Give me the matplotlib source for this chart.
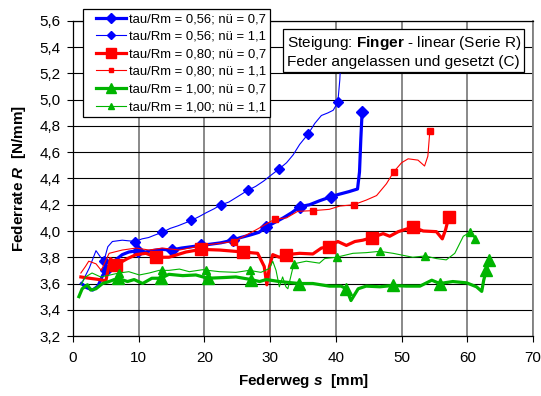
import matplotlib
matplotlib.use("Agg")
from matplotlib import pyplot as plt
from matplotlib.lines import Line2D
from matplotlib.legend_handler import HandlerLine2D
from matplotlib.ticker import MultipleLocator, FuncFormatter

plt.rcParams['font.family'] = ['Liberation Sans', 'DejaVu Sans']
plt.rcParams['mathtext.fontset'] = 'custom'
plt.rcParams['mathtext.rm'] = 'Liberation Sans'
plt.rcParams['mathtext.bf'] = 'Liberation Sans:bold'
plt.rcParams['mathtext.it'] = 'Liberation Sans:italic:bold'

# tau/Rm = 0,56; nue = 0,7
b07_x = [1.3, 2.0, 3.0, 3.8, 4.5, 5.0, 5.6, 6.5, 7.5, 8.5, 9.9, 11.0, 12.0, 13.5, 15.0, 16.5,
         18.0, 19.5, 21.0, 22.5, 24.3, 25.5, 27.0, 28.3, 29.4, 30.5, 32.0, 33.3, 34.5, 36.0,
         37.5, 39.2, 40.5, 42.0, 43.3, 43.6, 43.8, 44.0]
b07_y = [3.60, 3.57, 3.55, 3.58, 3.66, 3.70, 3.73, 3.78, 3.82, 3.84, 3.85, 3.84, 3.85, 3.86,
         3.855, 3.87, 3.88, 3.89, 3.90, 3.91, 3.93, 3.95, 3.97, 3.99, 4.03, 4.06, 4.10, 4.14,
         4.185, 4.20, 4.23, 4.26, 4.28, 4.30, 4.32, 4.45, 4.70, 4.91]
b07_mx = [5.0, 9.9, 15.0, 19.5, 24.3, 29.4, 34.5, 39.2, 44.0]
b07_my = [3.70, 3.85, 3.855, 3.89, 3.93, 4.03, 4.185, 4.26, 4.91]

# tau/Rm = 0,56; nue = 1,1
b11_x = [1.5, 2.5, 3.5, 4.2, 4.7, 5.3, 6.0, 7.5, 9.5, 10.5, 11.5, 12.5, 13.6, 14.8, 16.0, 17.0,
         18.0, 19.2, 20.3, 21.5, 22.5, 23.7, 25.0, 26.6, 27.8, 29.0, 30.0, 31.3, 32.5, 33.5,
         34.5, 35.8, 36.8, 37.8, 38.8, 39.6, 40.3, 40.6, 40.9]
b11_y = [3.62, 3.72, 3.85, 3.80, 3.77, 3.88, 3.92, 3.93, 3.92, 3.94, 3.95, 3.97, 3.99, 4.02,
         4.04, 4.06, 4.08, 4.11, 4.14, 4.17, 4.20, 4.22, 4.26, 4.31, 4.34, 4.38, 4.42, 4.47,
         4.52, 4.58, 4.66, 4.74, 4.82, 4.88, 4.90, 4.92, 4.98, 5.15, 5.45]
b11_mx = [4.7, 9.5, 13.6, 18.0, 22.5, 26.6, 31.3, 35.8, 40.3]
b11_my = [3.77, 3.92, 3.99, 4.08, 4.20, 4.31, 4.47, 4.74, 4.98]

# tau/Rm = 0,80; nue = 0,7
r07_x = [1.2, 2.5, 4.0, 5.0, 5.7, 6.5, 8.3, 9.6, 11.1, 12.6, 14.6, 17.2, 19.5, 22.3, 25.9,
         28.1, 29.1, 29.5, 29.9, 30.4, 31.4, 32.4, 34.5, 36.5, 37.8, 38.9, 40.3, 41.6, 42.9,
         44.1, 45.5, 47.2, 48.2, 49.5, 51.7, 53.3, 55.3, 56.2, 56.7, 57.2]
r07_y = [3.65, 3.64, 3.63, 3.62, 3.79, 3.74, 3.79, 3.82, 3.83, 3.80, 3.80, 3.84, 3.86, 3.855,
         3.84, 3.83, 3.73, 3.59, 3.73, 3.82, 3.80, 3.82, 3.83, 3.825, 3.87, 3.88, 3.92, 3.89,
         3.92, 3.93, 3.95, 3.98, 3.96, 3.995, 4.03, 4.00, 3.995, 3.94, 4.01, 4.11]
r07_mx = [6.5, 12.6, 19.5, 25.9, 32.4, 38.9, 45.5, 51.7, 57.2]
r07_my = [3.74, 3.80, 3.86, 3.84, 3.82, 3.88, 3.95, 4.03, 4.11]

# tau/Rm = 0,80; nue = 1,1
r11_x = [1.2, 1.9, 2.4, 3.5, 4.3, 5.5, 7.5, 9.6, 11.6, 13.6, 16.2, 19.7, 24.5, 27.9, 30.7,
         32.5, 34.2, 36.5, 39.0, 40.6, 42.7, 44.6, 46.2, 47.7, 48.8, 50.0, 51.0, 52.5, 53.5,
         54.0, 54.3]
r11_y = [3.68, 3.73, 3.77, 3.75, 3.70, 3.83, 3.855, 3.87, 3.855, 3.87, 3.855, 3.89, 3.92,
         4.01, 4.09, 4.10, 4.15, 4.155, 4.165, 4.19, 4.20, 4.235, 4.27, 4.36, 4.45, 4.52,
         4.55, 4.54, 4.495, 4.57, 4.76]
r11_mx = [24.5, 30.7, 36.5, 42.7, 48.8, 54.3]
r11_my = [3.92, 4.09, 4.155, 4.20, 4.45, 4.76]

# tau/Rm = 1,00; nue = 0,7
g07_x = [0.9, 1.4, 2.2, 2.7, 3.5, 4.5, 5.5, 6.8, 8.3, 9.3, 10.6, 12.0, 13.4, 14.6, 16.7,
         18.7, 20.5, 22.8, 24.8, 27.1, 28.4, 29.4, 31.4, 34.4, 36.5, 39.0, 40.8, 41.6,
         42.3, 43.4, 44.6, 46.7, 48.7, 50.7, 52.8, 54.6, 55.8, 57.8, 59.9, 61.4, 62.2, 62.5,
         62.9, 63.3]
g07_y = [3.50, 3.56, 3.59, 3.55, 3.56, 3.60, 3.615, 3.64, 3.615, 3.63, 3.60, 3.64, 3.64,
         3.67, 3.66, 3.665, 3.64, 3.645, 3.65, 3.63, 3.615, 3.63, 3.615, 3.60, 3.60, 3.58,
         3.58, 3.56, 3.47, 3.56, 3.58, 3.575, 3.585, 3.58, 3.58, 3.625, 3.60, 3.615, 3.605,
         3.575, 3.54, 3.625, 3.70, 3.78]
g07_mx = [6.8, 13.4, 20.5, 27.1, 34.4, 41.6, 48.7, 55.8, 62.9, 63.3]
g07_my = [3.64, 3.64, 3.64, 3.63, 3.60, 3.56, 3.585, 3.60, 3.70, 3.78]

# tau/Rm = 1,00; nue = 1,1
g11_x = [1.2, 1.9, 2.9, 4.2, 5.2, 7.0, 8.5, 10.1, 11.6, 13.1, 14.6, 16.2, 17.7, 19.7, 22.3,
         24.8, 26.8, 28.6, 29.9, 30.4, 30.9, 31.4, 31.9, 32.4, 32.7, 33.6, 35.5, 37.5, 38.3,
         40.1, 42.6, 44.6, 46.7, 48.7, 51.7, 53.6, 55.3, 56.8, 58.1, 59.4, 60.4, 61.2]
g11_y = [3.59, 3.65, 3.68, 3.65, 3.66, 3.68, 3.69, 3.665, 3.68, 3.70, 3.70, 3.71, 3.69,
         3.705, 3.69, 3.685, 3.70, 3.685, 3.715, 3.77, 3.70, 3.575, 3.65, 3.575, 3.56, 3.75,
         3.77, 3.755, 3.79, 3.80, 3.83, 3.835, 3.845, 3.83, 3.80, 3.81, 3.79, 3.78, 3.83,
         3.96, 3.99, 3.94]
g11_mx = [7.0, 13.5, 20.3, 27.0, 33.6, 40.1, 46.7, 53.6, 60.4, 61.2]
g11_my = [3.68, 3.70, 3.70, 3.70, 3.75, 3.80, 3.845, 3.81, 3.99, 3.94]

labels = ["tau/Rm = 0,56; nü = 0,7", "tau/Rm = 0,56; nü = 1,1",
          "tau/Rm = 0,80; nü = 0,7", "tau/Rm = 0,80; nü = 1,1",
          "tau/Rm = 1,00; nü = 0,7", "tau/Rm = 1,00; nü = 1,1"]

blue = "#0000ff"
red = "#ff0000"
green = "#00b400"

series = [
    (b07_x, b07_y, b07_mx, b07_my, blue, 2.3, "D", 6.5),
    (b11_x, b11_y, b11_mx, b11_my, blue, 0.8, "D", 5.0),
    (r07_x, r07_y, r07_mx, r07_my, red, 2.3, "s", 8.5),
    (r11_x, r11_y, r11_mx, r11_my, red, 0.8, "s", 4.0),
    (g07_x, g07_y, g07_mx, g07_my, green, 2.3, "^", 8.5),
    (g11_x, g11_y, g11_mx, g11_my, green, 0.8, "^", 5.5),
]


class ShiftedLine(HandlerLine2D):
    # leave some blank space left of the legend line, like Excel does
    def create_artists(self, legend, orig_handle, xdescent, ydescent, width, height,
                       fontsize, trans):
        shift = 0.7 * fontsize
        return super().create_artists(legend, orig_handle, xdescent - shift, ydescent,
                                      width - shift, height, fontsize, trans)


fig = plt.figure(figsize=(5.41, 3.96), dpi=100)
ax = fig.add_axes([0.1349, 0.1515, 0.8503, 0.7955])

handles = []
for x, y, mx, my, c, lw, m, ms in series:
    ax.plot(x, y, color=c, lw=lw, solid_joinstyle="round")
    ax.plot(mx, my, ls="none", marker=m, ms=ms, color=c, mec=c)
    handles.append(Line2D([], [], color=c, lw=lw, marker=m, ms=ms * 0.8, mec=c))

ax.set_xlim(0, 70)
ax.set_ylim(3.2, 5.6)
ax.xaxis.set_major_locator(MultipleLocator(10))
ax.yaxis.set_major_locator(MultipleLocator(0.2))
ax.yaxis.set_major_formatter(FuncFormatter(lambda v, p: f"{v:.1f}".replace(".", ",")))
ax.tick_params(direction="out", length=4, width=0.8, labelsize=11)
ax.tick_params(axis="x", pad=7)
ax.tick_params(axis="y", pad=5)

ax.grid(axis="y", color="black", lw=0.8)
ax.grid(axis="x", color="#808080", lw=1.3)
ax.set_axisbelow(True)
for s in ["left", "bottom", "top"]:
    ax.spines[s].set_color("black")
    ax.spines[s].set_linewidth(0.9)
ax.spines["right"].set_color("#808080")
ax.spines["right"].set_linewidth(1.3)

ax.set_xlabel(r"Federweg $s$  [mm]", fontsize=11, fontweight="bold", labelpad=5)
ax.set_ylabel(r"Federrate $R$  [N/mm]", fontsize=11, fontweight="bold", labelpad=8)

leg = ax.legend(handles, labels, loc="upper left", bbox_to_anchor=(0.0217, 1.038),
                fontsize=9.4, frameon=True, fancybox=False, edgecolor="black",
                framealpha=1, borderpad=0.3, labelspacing=0.42, handlelength=3.0,
                handletextpad=0.25, borderaxespad=0, numpoints=1,
                handler_map={Line2D: ShiftedLine()})
leg.get_frame().set_linewidth(0.9)
leg.set_zorder(10)

ax.text(0.4565 + 0.008, 0.968 - 0.010,
        "Steigung: $\\mathbf{Finger}$ - linear (Serie R)\nFeder angelassen und gesetzt (C)",
        transform=ax.transAxes, ha="left", va="top", fontsize=11.1, linespacing=1.22,
        zorder=11,
        bbox=dict(boxstyle="square,pad=0.22", facecolor="white", edgecolor="black", lw=0.9))

fig.savefig("out.png", dpi=100)
